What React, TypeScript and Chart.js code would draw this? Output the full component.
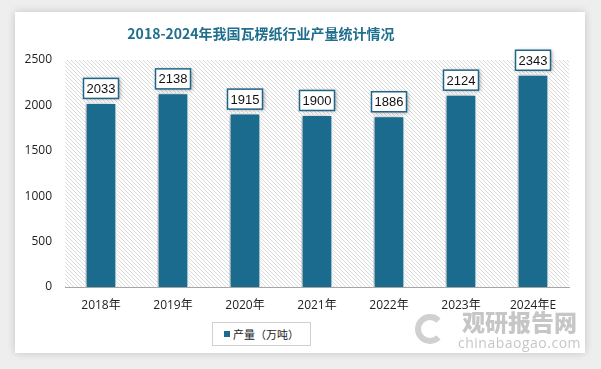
import React, { useEffect, useRef } from "react";
import { Chart, registerables } from "chart.js";

Chart.register(...registerables);

const categories = ["2018年", "2019年", "2020年", "2021年", "2022年", "2023年", "2024年E"];
const production = [2033, 2138, 1915, 1900, 1886, 2124, 2343];
const yTicks = [0, 500, 1000, 1500, 2000, 2500];
const seriesName = "产量（万吨）";
const titleText = "2018-2024年我国瓦楞纸行业产量统计情况";

const BAR = "#1b6b8f";
const TITLE = "#1f6e8e";

function makeHatch(): CanvasPattern | string {
  const c = document.createElement("canvas");
  c.width = 4;
  c.height = 4;
  const g = c.getContext("2d");
  if (!g) return "#f2f2f2";
  g.fillStyle = "#ffffff";
  g.fillRect(0, 0, 4, 4);
  g.fillStyle = "#d9d9d9";
  for (let i = 0; i < 4; i++) g.fillRect(i, i, 1, 1);
  const p = g.createPattern(c, "repeat");
  return p || "#f2f2f2";
}

export default function App() {
  const ref = useRef<HTMLCanvasElement | null>(null);

  useEffect(() => {
    if (!ref.current) return;
    const hatch = makeHatch();

    const bgPlugin = {
      id: "hatchBg",
      beforeDatasetsDraw(chart: any) {
        const { ctx, chartArea } = chart;
        ctx.save();
        ctx.fillStyle = hatch;
        ctx.fillRect(chartArea.left, chartArea.top, chartArea.right - chartArea.left, chartArea.bottom - chartArea.top);
        ctx.restore();
      },
    };

    const shadowPlugin = {
      id: "barShadow",
      beforeDatasetDraw(chart: any) {
        const ctx = chart.ctx;
        ctx.save();
        ctx.shadowColor = "rgba(0,0,0,0.3)";
        ctx.shadowBlur = 6;
        ctx.shadowOffsetX = -2;
        ctx.shadowOffsetY = 0;
      },
      afterDatasetDraw(chart: any) {
        chart.ctx.restore();
      },
    };

    const labelPlugin = {
      id: "boxLabels",
      afterDatasetsDraw(chart: any) {
        const { ctx } = chart;
        const meta = chart.getDatasetMeta(0);
        ctx.save();
        ctx.font = "13px 'Liberation Sans', 'Open Sans', sans-serif";
        meta.data.forEach((bar: any, i: number) => {
          const txt = String(production[i]);
          const w = 35;
          const h = 20;
          const x = bar.x - w / 2;
          const y = bar.y - 4 - h;
          ctx.save();
          ctx.shadowColor = "rgba(0,0,0,0.35)";
          ctx.shadowBlur = 4;
          ctx.shadowOffsetX = 1;
          ctx.shadowOffsetY = 1;
          ctx.fillStyle = "#ffffff";
          ctx.fillRect(x, y, w, h);
          ctx.restore();
          ctx.strokeStyle = "#1f6688";
          ctx.lineWidth = 1.5;
          ctx.strokeRect(x, y, w, h);
          ctx.fillStyle = "#111111";
          ctx.textAlign = "center";
          ctx.textBaseline = "middle";
          ctx.fillText(txt, bar.x, y + h / 2 + 1);
        });
        ctx.restore();
      },
    };

    const chart = new Chart(ref.current, {
      type: "bar",
      data: {
        labels: categories,
        datasets: [
          {
            label: seriesName,
            data: production,
            backgroundColor: BAR,
            borderColor: "#ffffff",
            borderWidth: 1.5,
            barPercentage: 0.44,
            categoryPercentage: 1,
          },
        ],
      },
      options: {
        animation: false,
        responsive: false,
        maintainAspectRatio: false,
        layout: { padding: { left: 0, right: 16, top: 48, bottom: 36 } },
        plugins: {
          legend: { display: false },
          title: { display: false },
          tooltip: { enabled: false },
        },
        scales: {
          x: {
            grid: { display: false, drawTicks: false },
            border: { display: true, color: "#a6a6a6", width: 1 },
            ticks: {
              padding: 11,
              color: "#222222",
              font: { size: 12, family: "'Open Sans', 'Noto Sans CJK SC', sans-serif" },
              maxRotation: 0,
              autoSkip: false,
            },
            afterFit: (s: any) => {
              s.height = 30;
            },
          },
          y: {
            min: 0,
            max: 2500,
            grid: { display: false, drawTicks: false },
            border: { display: false },
            afterBuildTicks: (s: any) => {
              s.ticks = yTicks.map((v) => ({ value: v }));
            },
            ticks: {
              padding: 13,
              color: "#222222",
              font: { size: 12, family: "'Open Sans', 'Liberation Sans', sans-serif" },
              callback: (v: any) => String(v),
            },
            afterFit: (s: any) => {
              s.width = 50;
            },
          },
        },
      },
      plugins: [bgPlugin, shadowPlugin, labelPlugin],
    });
    return () => chart.destroy();
  }, []);

  return (
    <div
      style={{
        position: "fixed",
        left: 0,
        top: 0,
        width: 601,
        height: 369,
        background: "#eeeeee",
        overflow: "hidden",
      }}
    >
      <div
        style={{
          position: "absolute",
          left: 15,
          top: 12,
          width: 570,
          height: 341,
          background: "#ffffff",
          boxShadow: "0 0 8px rgba(0,0,0,0.18)",
        }}
      >
        <canvas ref={ref} width={570} height={341} style={{ position: "absolute", left: 0, top: 0 }} />
        <div
          style={{
            position: "absolute",
            left: 0,
            width: 492,
            top: 12,
            textAlign: "center",
            fontFamily: "'Noto Sans CJK SC', sans-serif",
            fontWeight: 700,
            fontSize: 14,
            color: TITLE,
            lineHeight: "18px",
          }}
        >
          {titleText}
        </div>
        <div
          style={{
            position: "absolute",
            left: 197,
            top: 310,
            width: 97,
            height: 22,
            border: "1px solid #d0d0d0",
            display: "flex",
            alignItems: "center",
            justifyContent: "center",
            fontFamily: "'Noto Sans CJK SC', sans-serif",
            fontSize: 11,
            color: "#222",
            background: "#fff",
          }}
        >
          <span style={{ display: "inline-block", width: 6, height: 6, background: BAR, marginRight: 3 }} />
          <span>{seriesName}</span>
        </div>
        <div
          style={{
            position: "absolute",
            left: 400,
            top: 302,
            width: 30,
            height: 30,
            borderRadius: "50%",
            border: "6px solid rgba(170,170,170,0.55)",
            borderRightColor: "transparent",
            boxSizing: "border-box",
          }}
        />
        <div
          style={{
            position: "absolute",
            left: 447,
            top: 294,
            fontFamily: "'Noto Sans CJK SC', sans-serif",
            fontWeight: 900,
            fontSize: 23,
            letterSpacing: 0,
            color: "rgba(160,160,160,0.6)",
            lineHeight: "30px",
            whiteSpace: "nowrap",
          }}
        >
          观研报告网
        </div>
        <div
          style={{
            position: "absolute",
            left: 443,
            top: 322,
            fontFamily: "'Open Sans', sans-serif",
            fontSize: 14,
            color: "rgba(160,160,160,0.6)",
            lineHeight: "18px",
            letterSpacing: 0.5,
            whiteSpace: "nowrap",
          }}
        >
          chinabaogao.com
        </div>
      </div>
    </div>
  );
}
